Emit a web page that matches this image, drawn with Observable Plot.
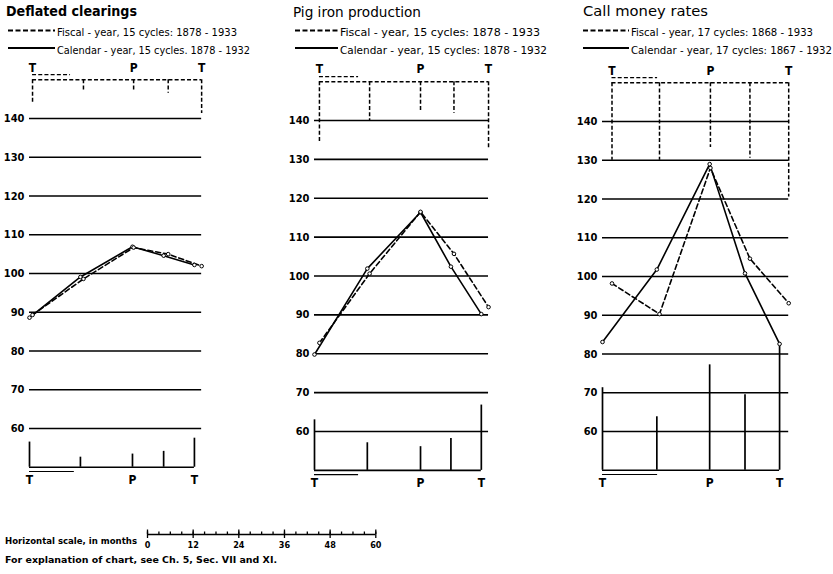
<!DOCTYPE html>
<html><head><meta charset="utf-8">
<script src="https://cdn.jsdelivr.net/npm/d3@7"></script>
<script src="https://cdn.jsdelivr.net/npm/@observablehq/plot@0.6"></script>
<style>
html,body{margin:0;padding:0;background:#fff;}
#root{position:relative;width:833px;height:574px;overflow:hidden;font-family:"DejaVu Sans Condensed","DejaVu Sans",sans-serif;}
#root svg{position:absolute;}
</style></head><body><div id="root"></div>
<script>
// ---------- data ----------
const titles = ["Deflated clearings", "Pig iron production", "Call money rates"];
const fiscalLegend = ["Fiscal - year, 15 cycles: 1878 - 1933", "Fiscal - year, 15 cycles: 1878 - 1933", "Fiscal - year, 17 cycles: 1868 - 1933"];
const calendarLegend = ["Calendar - year, 15 cycles. 1878 - 1932", "Calendar - year, 15 cycles: 1878 - 1932", "Calendar - year, 17 cycles: 1867 - 1932"];
const stageLabels = ["T", "", "P", "", "T"];
const yTicks = [60, 70, 80, 90, 100, 110, 120, 130, 140];
const monthTicks = [0, 12, 24, 36, 48, 60];
const monthMinor = [0, 3, 6, 9, 12, 15, 18, 21, 24, 27, 30, 33, 36, 39, 42, 45, 48, 51, 54, 57, 60];
const scaleLabel = "Horizontal scale, in months";
const note = "For explanation of chart, see Ch. 5, Sec. VII and XI.";

// Deflated clearings
const clearingsCalMonths = [0, 13.4, 27.1, 35.3, 43.4];
const clearingsCalValues = [88.6, 99.1, 106.9, 104.6, 102.2];
const clearingsCalDev = [6.5, 2.6, 3.4, 4.1, 7.5];
const clearingsFisMonths = [0.8, 14.2, 27.4, 36.5, 45.3];
const clearingsFisValues = [89.3, 98.6, 106.7, 105.0, 101.9];
const clearingsFisDev = [6.4, 2.8, 2.8, 3.5, 8.7];
const clearingsDurDev = [11.8, 10.0]; // calendar, fiscal

// Pig iron production
const pigCalMonths = [0, 13.9, 27.9, 35.9, 43.9];
const pigCalValues = [79.8, 101.9, 116.4, 102.4, 90.2];
const pigCalDev = [13.0, 7.1, 6.1, 8.2, 16.8];
const pigFisMonths = [1.3, 14.5, 27.9, 36.7, 45.8];
const pigFisValues = [82.8, 100.6, 116.5, 105.7, 92.0];
const pigFisDev = [16.0, 10.0, 7.7, 8.2, 17.5];
const pigDurDev = [11.6, 10.3];

// Call money rates
const callCalMonths = [0, 14.3, 28.2, 37.5, 46.6];
const callCalValues = [83.1, 101.8, 129.0, 100.8, 82.6];
const callCalDev = [21.3, 13.8, 27.2, 19.5, 32.0];
const callFisMonths = [2.5, 15.0, 28.4, 38.8, 49.0];
const callFisValues = [98.2, 90.3, 128.0, 104.6, 93.1];
const callFisDev = [20.0, 20.0, 16.7, 19.5, 29.5];
const callDurDev = [14.5, 12.0];

// ---------- layout ----------
const FONT = '"DejaVu Sans Condensed","DejaVu Sans",sans-serif';
const K = 3.8; // px per month
const root = document.getElementById("root");

const series = [
  {cm: clearingsCalMonths, cv: clearingsCalValues, cd: clearingsCalDev, fm: clearingsFisMonths, fv: clearingsFisValues, fd: clearingsFisDev, dur: clearingsDurDev,
   left: 0, width: 280, x0: 29, y60: 428, y140: 118},
  {cm: pigCalMonths, cv: pigCalValues, cd: pigCalDev, fm: pigFisMonths, fv: pigFisValues, fd: pigFisDev, dur: pigDurDev,
   left: 280, width: 285, x0: 314, y60: 431, y140: 120},
  {cm: callCalMonths, cv: callCalValues, cd: callCalDev, fm: callFisMonths, fv: callFisValues, fd: callFisDev, dur: callDurDev,
   left: 565, width: 268, x0: 602, y60: 431, y140: 121}
];

series.forEach((s) => {
  const cal = s.cm.map((m, i) => ({x: m, y: s.cv[i], dev: s.cd[i], label: stageLabels[i]}));
  const fis = s.fm.map((m, i) => ({x: m, y: s.fv[i], dev: s.fd[i], label: stageLabels[i]}));
  const xEnd = Math.max(s.cm[4], s.fm[4]);
  const xs = s.x0 - s.left;
  const dash = "4,2.2";
  const svg = Plot.plot({
    width: s.width, height: 500,
    marginLeft: 0, marginRight: 0, marginTop: 0, marginBottom: 0,
    x: {domain: [0, 60], range: [xs, xs + 60 * K], axis: null},
    y: {domain: [60, 140], range: [s.y60, s.y140], axis: null},
    style: {background: "transparent", overflow: "visible", fontFamily: FONT, color: "black"},
    marks: [
      // grid
      Plot.ruleY(yTicks, {y: d => d, x1: 0, x2: xEnd, stroke: "black", strokeWidth: 1.7}),
      Plot.text(yTicks, {x: 0, y: d => d, text: d => String(d), textAnchor: "end", dx: -5, fontSize: 11, fontWeight: "bold", fill: "black"}),
      // fiscal-year average deviations (top, dashed)
      Plot.ruleY([150], {x1: s.fm[0], x2: s.fm[4], stroke: "black", strokeWidth: 1.5, strokeDasharray: dash}),
      Plot.ruleX(fis, {x: "x", y1: 150, y2: d => 150 - d.dev, stroke: "black", strokeWidth: 1.5, strokeDasharray: dash}),
      Plot.ruleY([151.3], {x1: s.fm[0], x2: s.fm[0] + s.dur[1], stroke: "black", strokeWidth: 1.3, strokeDasharray: dash}),
      // calendar-year average deviations (bottom, solid)
      Plot.ruleY([50], {x1: s.cm[0], x2: s.cm[4], stroke: "black", strokeWidth: 1.7}),
      Plot.ruleX(cal, {x: "x", y1: 50, y2: d => 50 + d.dev, stroke: "black", strokeWidth: 1.7}),
      Plot.ruleY([48.9], {x1: s.cm[0], x2: s.cm[0] + s.dur[0], stroke: "black", strokeWidth: 1.2}),
      // curves
      Plot.line(cal, {x: "x", y: "y", stroke: "black", strokeWidth: 1.6}),
      Plot.line(fis, {x: "x", y: "y", stroke: "black", strokeWidth: 1.6, strokeDasharray: "5,3"}),
      Plot.dot(cal.concat(fis), {x: "x", y: "y", r: 1.8, fill: "white", stroke: "black", strokeWidth: 1}),
      // T / P labels
      Plot.text(fis.filter(d => d.label), {x: "x", y: 150, text: "label", dy: -12, fontSize: 12, fontWeight: "bold", fill: "black"}),
      Plot.text(cal.filter(d => d.label), {x: "x", y: 50, text: "label", dy: 13, fontSize: 12, fontWeight: "bold", fill: "black"})
    ]
  });
  svg.style.left = s.left + "px";
  svg.style.top = "0px";
  root.appendChild(svg);
});

// ---------- header: titles and legends ----------
const hdrPos = [
  {tx: 6, tw: 131, tb: 15.5, bold: true, lx1: 8, lx2: 55, tx2: 57, fw: 180, cw: 193},
  {tx: 293, tw: 128, tb: 16.5, bold: false, lx1: 295, lx2: 338, tx2: 340, fw: 200, cw: 207},
  {tx: 583, tw: 125, tb: 16, bold: false, lx1: 583, lx2: 629, tx2: 631, fw: 182, cw: 201}
];
const hdr = d3.create("svg").attr("width", 833).attr("height", 60).style("left", "0px").style("top", "0px")
  .attr("font-family", FONT);
hdrPos.forEach((p, i) => {
  hdr.append("text").attr("x", p.tx).attr("y", p.tb).attr("font-size", 14)
    .attr("font-weight", p.bold ? "bold" : "normal").attr("textLength", p.tw).attr("lengthAdjust", "spacingAndGlyphs").text(titles[i]);
  hdr.append("line").attr("x1", p.lx1).attr("x2", p.lx2).attr("y1", 30.5).attr("y2", 30.5)
    .attr("stroke", "black").attr("stroke-width", 2).attr("stroke-dasharray", "5,2.5");
  hdr.append("line").attr("x1", p.lx1).attr("x2", p.lx2).attr("y1", 48).attr("y2", 48)
    .attr("stroke", "black").attr("stroke-width", 2);
  hdr.append("text").attr("x", p.tx2).attr("y", 35.5).attr("font-size", 10.5)
    .attr("textLength", p.fw).attr("lengthAdjust", "spacingAndGlyphs").text(fiscalLegend[i]);
  hdr.append("text").attr("x", p.tx2).attr("y", 53.5).attr("font-size", 10.5)
    .attr("textLength", p.cw).attr("lengthAdjust", "spacingAndGlyphs").text(calendarLegend[i]);
});
root.appendChild(hdr.node());

// ---------- footer ----------
const ftr = d3.create("svg").attr("width", 300).attr("height", 45).style("left", "0px").style("top", "528px")
  .attr("font-family", FONT);
ftr.append("text").attr("x", 5).attr("y", 15.5).attr("font-size", 9.5).attr("font-weight", "bold")
  .attr("textLength", 132).attr("lengthAdjust", "spacingAndGlyphs").text(scaleLabel);
ftr.append("text").attr("x", 5).attr("y", 35).attr("font-size", 9.5).attr("font-weight", "bold")
  .attr("textLength", 272).attr("lengthAdjust", "spacingAndGlyphs").text(note);
root.appendChild(ftr.node());

const scaleSvg = Plot.plot({
  width: 250, height: 30,
  marginLeft: 0, marginRight: 0, marginTop: 0, marginBottom: 0,
  x: {domain: [0, 60], range: [7, 7 + 60 * 3.805], axis: null},
  y: {domain: [0, 30], range: [30, 0], axis: null},
  style: {background: "transparent", overflow: "visible", fontFamily: FONT},
  marks: [
    Plot.ruleY([18], {x1: 0, x2: 60, stroke: "black", strokeWidth: 1.6}),
    Plot.ruleX(monthMinor, {x: d => d, y1: 18, y2: 20.5, stroke: "black", strokeWidth: 1.3}),
    Plot.ruleX(monthTicks, {x: d => d, y1: 14, y2: 22.5, stroke: "black", strokeWidth: 1.3}),
    Plot.text(monthTicks, {x: d => d, y: 7, text: d => String(d), fontSize: 9, fontWeight: "bold", fill: "black"})
  ]
});
scaleSvg.style.left = "140px";
scaleSvg.style.top = "522px";
root.appendChild(scaleSvg);
</script></body></html>
